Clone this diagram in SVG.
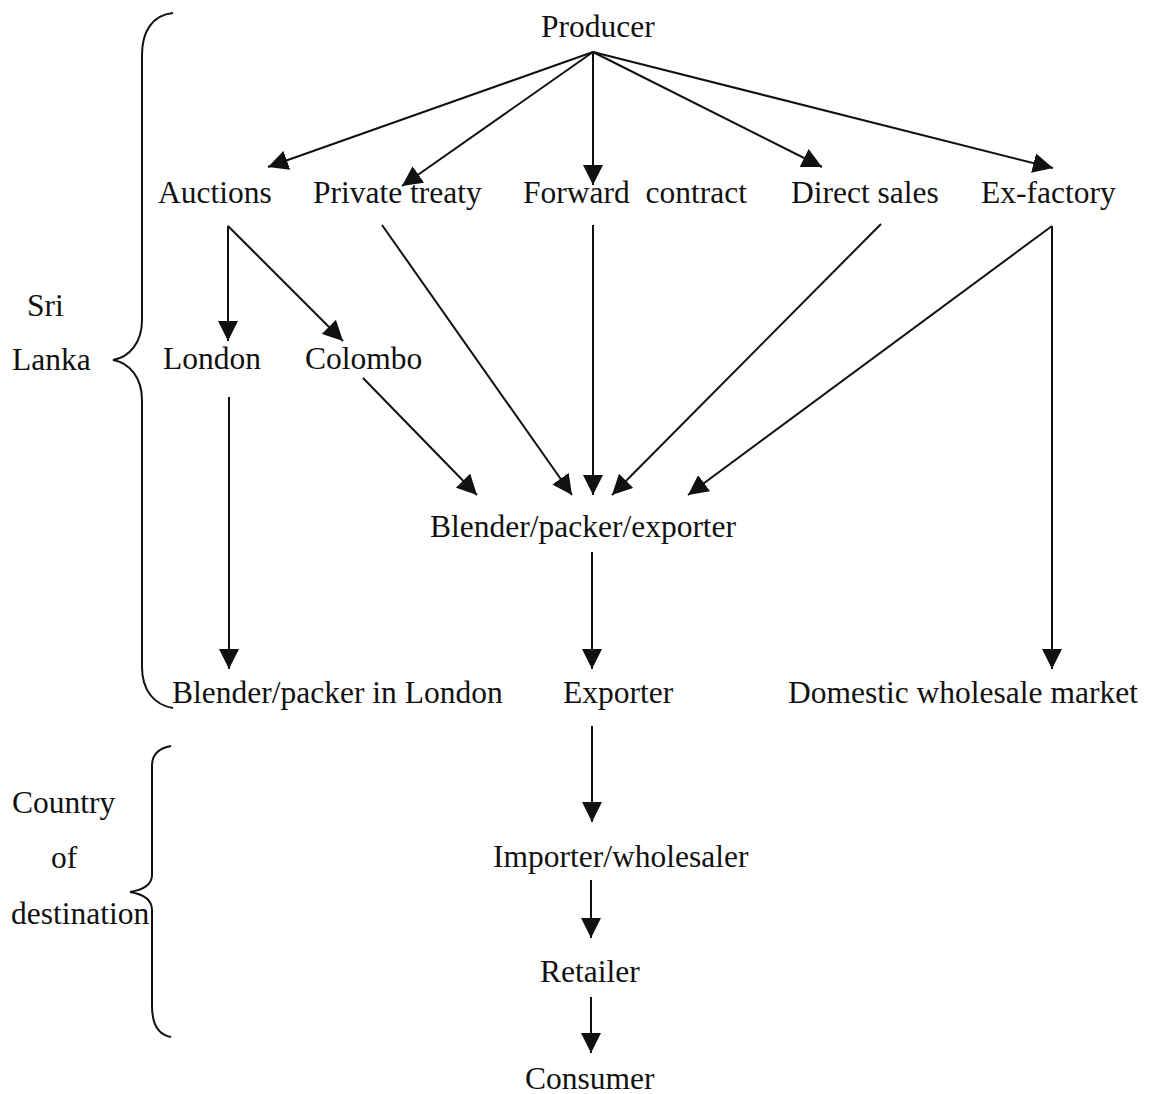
<svg xmlns="http://www.w3.org/2000/svg" width="1155" height="1094" viewBox="0 0 1155 1094">
  <style>
    .lbl { font-family: "Liberation Serif", "Times New Roman", serif; font-size: 31.5px; fill: #111; }
    .edge { stroke: #111; stroke-width: 2; fill: none; marker-end: url(#head); }
    .brace { stroke: #111; stroke-width: 2; fill: none; }
  </style>
  <defs>
    <marker id="head" markerUnits="userSpaceOnUse" viewBox="0 0 20 20" markerWidth="20" markerHeight="20" refX="20" refY="10" orient="auto">
      <path d="M0,0 L20,10 L0,20 Z" fill="#111"/>
    </marker>
  </defs>
  <rect width="1155" height="1094" fill="#fff"/>

  <!-- region braces -->
  <g id="brace-sri-lanka">
    <path class="brace" d="M173,13 C152,15 142,32 142,55 L142,320 C142,342 130,357 113,360 C130,363 142,378 142,400 L142,667 C142,690 154,705 173,708"/>
    <text class="lbl" x="27" y="316">Sri</text>
    <text class="lbl" x="12" y="370">Lanka</text>
  </g>
  <g id="brace-destination">
    <path class="brace" d="M171,746 C159,748 152,755 152,766 L152,875 C152,886 142,890 130,892 C142,894 152,899 152,910 L152,1006 C152,1026 160,1035 171,1037"/>
    <text class="lbl" x="12" y="813">Country</text>
    <text class="lbl" x="51" y="868">of</text>
    <text class="lbl" x="11" y="924">destination</text>
  </g>

  <!-- connectors -->
  <g id="connectors">
    <line class="edge" x1="593" y1="52" x2="268" y2="167"/>
    <line class="edge" x1="593" y1="52" x2="402" y2="186"/>
    <line class="edge" x1="593" y1="52" x2="593" y2="185"/>
    <line class="edge" x1="593" y1="52" x2="822" y2="167"/>
    <line class="edge" x1="593" y1="52" x2="1053" y2="168"/>

    <line class="edge" x1="228" y1="226" x2="228" y2="341"/>
    <line class="edge" x1="228" y1="226" x2="343" y2="341"/>
    <line class="edge" x1="229" y1="397" x2="229" y2="669"/>

    <line class="edge" x1="363" y1="378" x2="477" y2="495"/>
    <line class="edge" x1="382" y1="225" x2="572" y2="495"/>
    <line class="edge" x1="593" y1="225" x2="593" y2="495"/>
    <line class="edge" x1="881" y1="224" x2="612" y2="495"/>
    <line class="edge" x1="1052" y1="226" x2="688" y2="495"/>
    <line class="edge" x1="1052" y1="226" x2="1052" y2="669"/>

    <line class="edge" x1="592" y1="552" x2="592" y2="669"/>
    <line class="edge" x1="592" y1="726" x2="592" y2="822"/>
    <line class="edge" x1="591" y1="880" x2="591" y2="938"/>
    <line class="edge" x1="591" y1="997" x2="591" y2="1053"/>
  </g>

  <!-- nodes -->
  <g id="producer"><text class="lbl" x="541" y="37">Producer</text></g>
  <g id="auctions"><text class="lbl" x="158" y="203">Auctions</text></g>
  <g id="private-treaty"><text class="lbl" x="313" y="203">Private treaty</text></g>
  <g id="forward-contract"><text class="lbl" x="523" y="203" xml:space="preserve">Forward  contract</text></g>
  <g id="direct-sales"><text class="lbl" x="791" y="203">Direct sales</text></g>
  <g id="ex-factory"><text class="lbl" x="981" y="203">Ex-factory</text></g>
  <g id="london"><text class="lbl" x="163" y="369">London</text></g>
  <g id="colombo"><text class="lbl" x="305" y="369">Colombo</text></g>
  <g id="blender-packer-exporter"><text class="lbl" x="430" y="537">Blender/packer/exporter</text></g>
  <g id="blender-packer-london"><text class="lbl" x="172" y="703">Blender/packer in London</text></g>
  <g id="exporter"><text class="lbl" x="563" y="703">Exporter</text></g>
  <g id="domestic-wholesale"><text class="lbl" x="788" y="703">Domestic wholesale market</text></g>
  <g id="importer-wholesaler"><text class="lbl" x="493" y="867">Importer/wholesaler</text></g>
  <g id="retailer"><text class="lbl" x="540" y="982">Retailer</text></g>
  <g id="consumer"><text class="lbl" x="525" y="1089">Consumer</text></g>
</svg>
